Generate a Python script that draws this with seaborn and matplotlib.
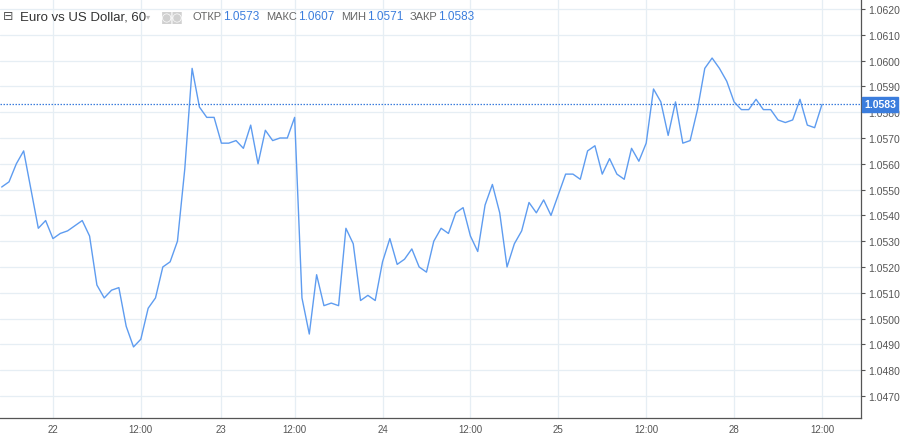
import numpy as np
import pandas as pd
import matplotlib.pyplot as plt
import seaborn as sns

# hourly closes, EUR/USD
prices = [
    1.0551, 1.0553, 1.0560, 1.0565, 1.0550, 1.0535, 1.0538, 1.0531, 1.0533, 1.0534,
    1.0536, 1.0538, 1.0532, 1.0513, 1.0508, 1.0511, 1.0512, 1.0497, 1.0489, 1.0492,
    1.0504, 1.0508, 1.0520, 1.0522, 1.0530, 1.0558, 1.0597, 1.0582, 1.0578, 1.0578,
    1.0568, 1.0568, 1.0569, 1.0566, 1.0575, 1.0560, 1.0573, 1.0569, 1.0570, 1.0570,
    1.0578, 1.0508, 1.0494, 1.0517, 1.0505, 1.0506, 1.0505, 1.0535, 1.0529, 1.0507,
    1.0509, 1.0507, 1.0522, 1.0531, 1.0521, 1.0523, 1.0527, 1.0520, 1.0518, 1.0530,
    1.0535, 1.0533, 1.0541, 1.0543, 1.0532, 1.0526, 1.0544, 1.0552, 1.0541, 1.0520,
    1.0529, 1.0534, 1.0545, 1.0541, 1.0546, 1.0540, 1.0548, 1.0556, 1.0556, 1.0554,
    1.0565, 1.0567, 1.0556, 1.0562, 1.0556, 1.0554, 1.0566, 1.0561, 1.0568, 1.0589,
    1.0584, 1.0571, 1.0584, 1.0568, 1.0569, 1.0581, 1.0597, 1.0601, 1.0597, 1.0592,
    1.0584, 1.0581, 1.0581, 1.0585, 1.0581, 1.0581, 1.0577, 1.0576, 1.0577, 1.0585,
    1.0575, 1.0574, 1.0583,
]
tick_bars = [7, 19, 30, 40, 52, 64, 76, 88, 100, 112]
tick_labels = ['22', '12:00', '23', '12:00', '24', '12:00', '25', '12:00', '28', '12:00']
y_ticks = [round(1.0470 + 0.001 * k, 4) for k in range(16)]
last_price = 1.0583
header_labels = ['ОТКР', 'МАКС', 'МИН', 'ЗАКР']
header_values = ['1.0573', '1.0607', '1.0571', '1.0583']

df = pd.DataFrame({'bar': np.arange(len(prices)), 'price': prices})

sns.set_style('white')
plt.rcParams['font.family'] = ['Liberation Sans', 'DejaVu Sans']

W, H = 900, 435
fig = plt.figure(figsize=(9, 4.35), dpi=100)
ax = fig.add_axes([0, 16 / H, 861 / W, 419 / H])

line_blue = '#5e9cf0'
label_blue = '#3b7ddd'
grid_col = '#e6eef4'

sns.lineplot(data=df, x='bar', y='price', ax=ax, color=line_blue, linewidth=1.0)
ax.axhline(last_price, color=label_blue, linewidth=0.9, linestyle=(0, (1.2, 1.2)))

ax.set_xlim(-0.23, 117.33)
ax.set_ylim(1.046145, 1.062389)
ax.set_xticks(tick_bars)
ax.set_xticklabels(tick_labels)
ax.set_yticks(y_ticks)
ax.set_yticklabels([f'{v:.4f}' for v in y_ticks])
ax.yaxis.tick_right()
ax.set_xlabel('')
ax.set_ylabel('')
ax.grid(True, color=grid_col, linewidth=0.9)
ax.set_axisbelow(True)

for side in ['top', 'left']:
    ax.spines[side].set_visible(False)
for side in ['right', 'bottom']:
    ax.spines[side].set_color('#555555')
    ax.spines[side].set_linewidth(0.9)
ax.tick_params(axis='both', colors='#555555', labelsize=7.5, length=3, width=0.8,
               direction='out', pad=2)
ax.tick_params(axis='x', labelsize=7, pad=1)

# last price tag
ax.annotate(f'{last_price:.4f}', xy=(1.0, last_price), xycoords=('axes fraction', 'data'),
            xytext=(2.5, 0), textcoords='offset points', va='center', ha='left',
            fontsize=7.5, color='white', fontweight='bold',
            bbox=dict(boxstyle='square,pad=0.2', fc=label_blue, ec=label_blue))

# header
def fx(px):
    return px / W

hy = 1 - 17 / H
fig.text(fx(3), hy, '⊟', fontsize=9, color='#555555', va='center',
         family=['DejaVu Sans'])
fig.text(fx(20), hy, 'Euro vs US Dollar, 60', fontsize=9.5, color='#333333',
         va='center')
fig.text(fx(146), hy, '▾', fontsize=6, color='#bbbbbb', va='center',
         family=['DejaVu Sans'])
fig.text(fx(161), hy, '◙◙', fontsize=8.5, color='#d0d0d0', va='center',
         family=['DejaVu Sans'])
value_x = [223, 298, 367, 438]
for lab, val, vx in zip(header_labels, header_values, value_x):
    fig.text(fx(vx - 1), hy, lab, fontsize=8, color='#666666', va='center', ha='right')
    fig.text(fx(vx), hy, val, fontsize=8.5, color=label_blue, va='center')

fig.savefig('out.png', dpi=100)
